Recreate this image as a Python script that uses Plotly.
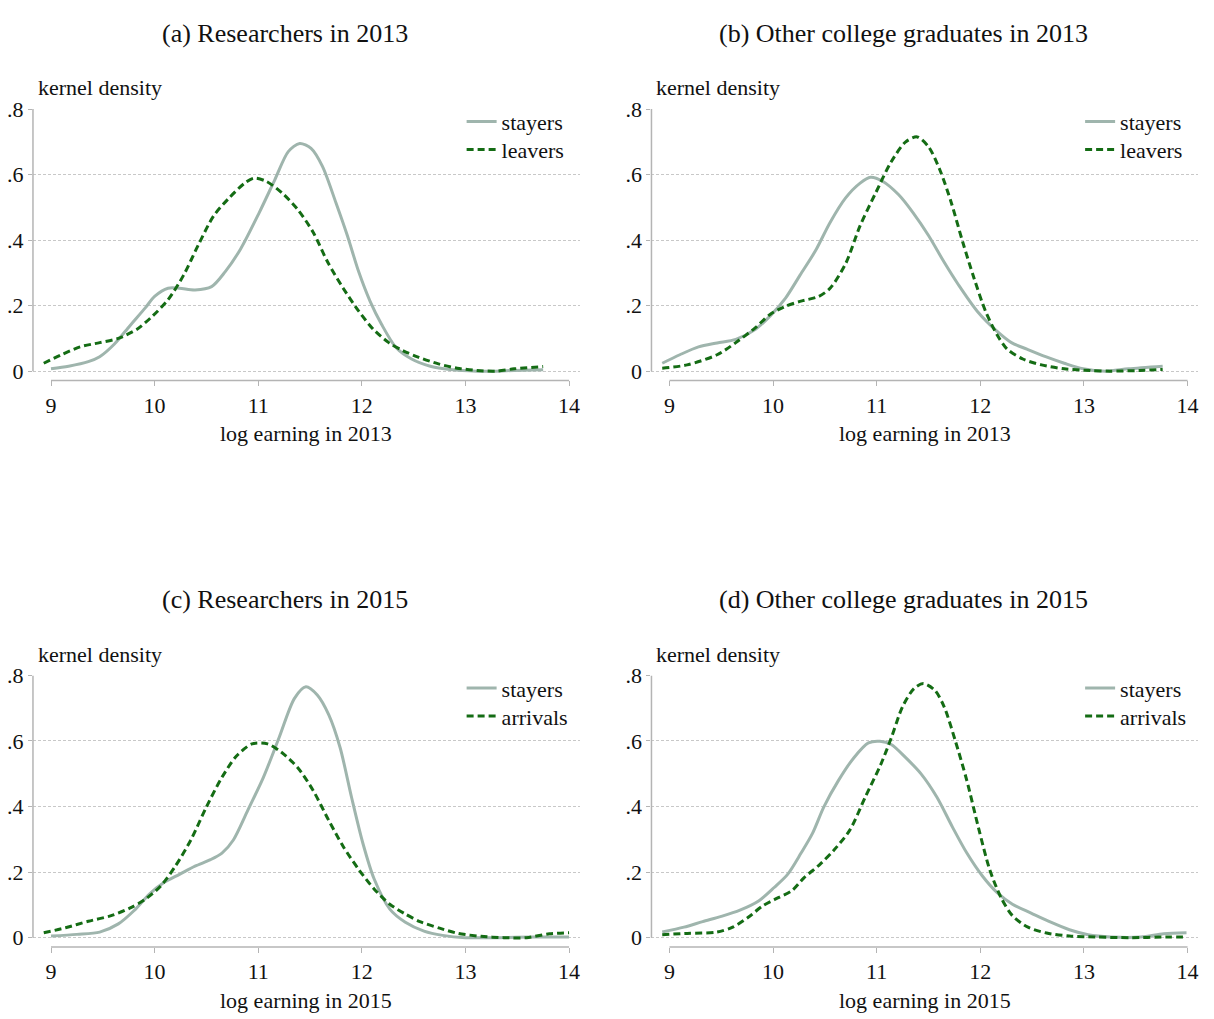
import plotly.graph_objects as go

# ---------------- data ----------------
a_stay_x = [9.0, 9.17, 9.36, 9.47, 9.61, 9.76, 9.91, 10.0, 10.13, 10.24, 10.39, 10.55, 10.68, 10.83, 11.01, 11.16, 11.29, 11.40, 11.51, 11.62, 11.75, 11.86, 11.97, 12.08, 12.19, 12.33, 12.48, 12.67, 12.85, 13.11, 13.29, 13.47, 13.75]
a_stay_y = [0.007, 0.015, 0.029, 0.044, 0.082, 0.138, 0.193, 0.228, 0.253, 0.253, 0.248, 0.258, 0.303, 0.373, 0.484, 0.584, 0.670, 0.695, 0.680, 0.625, 0.514, 0.414, 0.303, 0.213, 0.143, 0.072, 0.037, 0.014, 0.005, 0.0, 0.0, 0.002, 0.004]
a_leave_x = [8.93, 9.10, 9.28, 9.47, 9.65, 9.83, 9.98, 10.13, 10.28, 10.42, 10.57, 10.72, 10.87, 10.96, 11.08, 11.23, 11.38, 11.53, 11.67, 11.82, 11.97, 12.11, 12.26, 12.40, 12.55, 12.74, 12.92, 13.11, 13.29, 13.47, 13.75]
a_leave_y = [0.024, 0.050, 0.074, 0.087, 0.100, 0.128, 0.168, 0.218, 0.293, 0.384, 0.474, 0.529, 0.574, 0.589, 0.579, 0.544, 0.494, 0.424, 0.333, 0.253, 0.183, 0.128, 0.087, 0.062, 0.042, 0.022, 0.009, 0.002, 0.0, 0.007, 0.014]

b_stay_x = [8.93, 9.10, 9.28, 9.46, 9.64, 9.83, 9.97, 10.12, 10.26, 10.41, 10.55, 10.70, 10.84, 10.94, 11.06, 11.21, 11.35, 11.50, 11.65, 11.79, 11.97, 12.16, 12.30, 12.45, 12.63, 12.81, 12.99, 13.21, 13.43, 13.76]
b_stay_y = [0.024, 0.050, 0.074, 0.086, 0.097, 0.128, 0.168, 0.223, 0.293, 0.368, 0.454, 0.529, 0.574, 0.592, 0.579, 0.539, 0.484, 0.414, 0.333, 0.263, 0.183, 0.122, 0.087, 0.067, 0.044, 0.024, 0.007, 0.0, 0.007, 0.015]
b_leave_x = [8.93, 9.17, 9.46, 9.64, 9.83, 9.97, 10.12, 10.26, 10.44, 10.55, 10.70, 10.84, 10.99, 11.14, 11.28, 11.39, 11.50, 11.61, 11.72, 11.83, 11.94, 12.05, 12.16, 12.26, 12.41, 12.59, 12.81, 13.06, 13.25, 13.54, 13.76]
b_leave_y = [0.009, 0.019, 0.050, 0.087, 0.133, 0.173, 0.198, 0.213, 0.228, 0.253, 0.328, 0.444, 0.544, 0.639, 0.700, 0.715, 0.685, 0.614, 0.514, 0.394, 0.283, 0.183, 0.112, 0.067, 0.037, 0.019, 0.007, 0.002, 0.0, 0.002, 0.005]

c_stay_x = [9.0, 9.25, 9.47, 9.65, 9.80, 9.95, 10.09, 10.24, 10.39, 10.54, 10.65, 10.76, 10.90, 11.05, 11.20, 11.35, 11.46, 11.57, 11.68, 11.79, 11.90, 12.01, 12.12, 12.27, 12.42, 12.60, 12.78, 13.00, 13.30, 13.67, 14.0]
c_stay_y = [0.005, 0.010, 0.017, 0.042, 0.082, 0.133, 0.168, 0.193, 0.218, 0.238, 0.258, 0.298, 0.389, 0.489, 0.609, 0.730, 0.765, 0.740, 0.680, 0.580, 0.429, 0.288, 0.178, 0.087, 0.047, 0.020, 0.007, 0.0, 0.0, 0.002, 0.002]
c_arr_x = [8.93, 9.14, 9.36, 9.58, 9.76, 9.91, 10.06, 10.20, 10.35, 10.50, 10.65, 10.79, 10.94, 11.09, 11.23, 11.38, 11.53, 11.68, 11.82, 11.97, 12.12, 12.27, 12.42, 12.56, 12.75, 12.93, 13.15, 13.37, 13.59, 13.81, 14.0]
c_arr_y = [0.015, 0.030, 0.050, 0.067, 0.090, 0.117, 0.158, 0.218, 0.298, 0.399, 0.489, 0.554, 0.591, 0.591, 0.564, 0.519, 0.449, 0.358, 0.278, 0.208, 0.148, 0.102, 0.072, 0.049, 0.029, 0.013, 0.004, 0.0, 0.0, 0.012, 0.015]

d_stay_x = [8.93, 9.14, 9.32, 9.50, 9.68, 9.86, 10.01, 10.14, 10.27, 10.38, 10.49, 10.63, 10.78, 10.92, 11.03, 11.14, 11.28, 11.43, 11.58, 11.73, 11.87, 12.02, 12.16, 12.31, 12.49, 12.68, 12.86, 13.04, 13.26, 13.55, 13.77, 13.99]
d_stay_y = [0.017, 0.032, 0.049, 0.065, 0.084, 0.112, 0.153, 0.193, 0.258, 0.318, 0.399, 0.479, 0.549, 0.594, 0.599, 0.589, 0.549, 0.499, 0.429, 0.338, 0.258, 0.188, 0.138, 0.102, 0.075, 0.047, 0.024, 0.009, 0.002, 0.002, 0.012, 0.015]
d_arr_x = [8.93, 9.17, 9.46, 9.61, 9.76, 9.90, 10.05, 10.18, 10.30, 10.45, 10.59, 10.74, 10.89, 11.04, 11.14, 11.25, 11.36, 11.45, 11.56, 11.65, 11.76, 11.87, 11.98, 12.09, 12.20, 12.31, 12.46, 12.64, 12.86, 13.11, 13.44, 13.81, 13.99]
d_arr_y = [0.009, 0.013, 0.017, 0.032, 0.062, 0.097, 0.122, 0.143, 0.183, 0.223, 0.268, 0.328, 0.429, 0.529, 0.609, 0.705, 0.760, 0.775, 0.755, 0.705, 0.599, 0.479, 0.338, 0.208, 0.122, 0.067, 0.032, 0.014, 0.005, 0.002, 0.0, 0.002, 0.002]

panel_titles = ["(a) Researchers in 2013", "(b) Other college graduates in 2013",
                "(c) Researchers in 2015", "(d) Other college graduates in 2015"]
x_titles = ["log earning in 2013", "log earning in 2013", "log earning in 2015", "log earning in 2015"]
second_names = ["leavers", "leavers", "arrivals", "arrivals"]
y_label = "kernel density"
x_ticks = [9, 10, 11, 12, 13, 14]
y_ticks = [0, 0.2, 0.4, 0.6, 0.8]
y_ticktext = ["0", ".2", ".4", ".6", ".8"]

series = [
    (a_stay_x, a_stay_y, a_leave_x, a_leave_y),
    (b_stay_x, b_stay_y, b_leave_x, b_leave_y),
    (c_stay_x, c_stay_y, c_arr_x, c_arr_y),
    (d_stay_x, d_stay_y, d_arr_x, d_arr_y),
]

# ---------------- layout geometry ----------------
W, H = 1214, 1019
FONT = "Liberation Serif"
STAY_C = "#9fb5ad"
LEAVE_C = "#146c14"
AXIS_C = "#b4b4b4"
GRID_C = "#c8c8c8"

col_px = [(33, 580), (652, 1199)]
row_px = [(98.5, 374), (673.3, 949)]
xr = [8.826, 14.101]
yr = [-0.0286, 0.8]

fig = go.Figure()
annotations = []
shapes = []
layout_axes = {}

for i in range(4):
    r, c = divmod(i, 2)
    x0p, x1p = col_px[c]
    y0p, y1p = row_px[r]
    xa = "x" if i == 0 else f"x{i+1}"
    ya = "y" if i == 0 else f"y{i+1}"
    xkey = "xaxis" if i == 0 else f"xaxis{i+1}"
    ykey = "yaxis" if i == 0 else f"yaxis{i+1}"
    leg1 = f"legend{2*i+1}" if i > 0 else "legend"
    leg2 = f"legend{2*i+2}"
    sx, sy, lx, ly = series[i]

    fig.add_trace(go.Scatter(x=sx, y=sy, mode="lines", name="stayers",
                             line=dict(color=STAY_C, width=3, shape="spline", smoothing=0.8),
                             xaxis=xa, yaxis=ya, legend=leg1))
    fig.add_trace(go.Scatter(x=lx, y=ly, mode="lines", name=second_names[i],
                             line=dict(color=LEAVE_C, width=3, dash="7px,4px", shape="spline", smoothing=0.8),
                             xaxis=xa, yaxis=ya, legend=leg2))

    layout_axes[xkey] = dict(domain=[x0p / W, x1p / W], range=xr, anchor=ya,
                             tickvals=x_ticks, ticks="outside", ticklen=5, tickcolor=AXIS_C,
                             showgrid=False, zeroline=False, showline=False,
                             tickfont=dict(family=FONT, size=22, color="#111"))
    layout_axes[ykey] = dict(domain=[1 - y1p / H, 1 - y0p / H], range=yr, anchor=xa,
                             tickvals=y_ticks, ticktext=y_ticktext, ticks="outside", ticklen=4,
                             tickcolor=AXIS_C, showgrid=True, gridcolor=GRID_C, griddash="3px,2px",
                             gridwidth=1, zeroline=False, showline=False,
                             tickfont=dict(family=FONT, size=22, color="#111"))
    for k, leg in enumerate([leg1, leg2]):
        layout_axes[leg] = dict(x=(502 - 40 + 619 * c) / W, xanchor="left",
                                y=1 - (111.3 + 28.4 * k + 575 * r) / H, yanchor="middle",
                                bgcolor="rgba(0,0,0,0)",
                                font=dict(family=FONT, size=22, color="#111"))

    # axis lines spanning only the tick range
    shapes.append(dict(type="line", xref=xa, yref=f"{ya} domain", x0=9, x1=14, y0=0, y1=0,
                       line=dict(color=AXIS_C, width=1.5)))
    shapes.append(dict(type="line", xref=f"{xa} domain", yref=ya, x0=0, x1=0, y0=0, y1=0.8,
                       line=dict(color=AXIS_C, width=1.5)))

    # texts
    annotations.append(dict(text=panel_titles[i], xref="paper", yref="paper",
                            x=(285 + 619 * c) / W, y=1 - (21.7 + 575 * r) / H,
                            xanchor="center", yanchor="middle", showarrow=False,
                            font=dict(family=FONT, size=26, color="#111")))
    annotations.append(dict(text=y_label, xref="paper", yref="paper",
                            x=(36 + 619 * c) / W, y=1 - (77 + 575 * r) / H,
                            xanchor="left", yanchor="middle", showarrow=False,
                            font=dict(family=FONT, size=22, color="#111")))
    annotations.append(dict(text=x_titles[i], xref="paper", yref="paper",
                            x=(306.5 + 619 * c) / W, y=1 - (428 + 575 * r) / H,
                            xanchor="center", yanchor="middle", showarrow=False,
                            font=dict(family=FONT, size=22, color="#111")))

fig.update_layout(width=W, height=H, margin=dict(l=0, r=0, t=0, b=0),
                  paper_bgcolor="white", plot_bgcolor="white",
                  annotations=annotations, shapes=shapes, showlegend=True,
                  **layout_axes)
fig.write_html("out.html", config={"displayModeBar": False},
               post_script="document.body.style.margin='0';document.body.style.overflow='hidden';")
